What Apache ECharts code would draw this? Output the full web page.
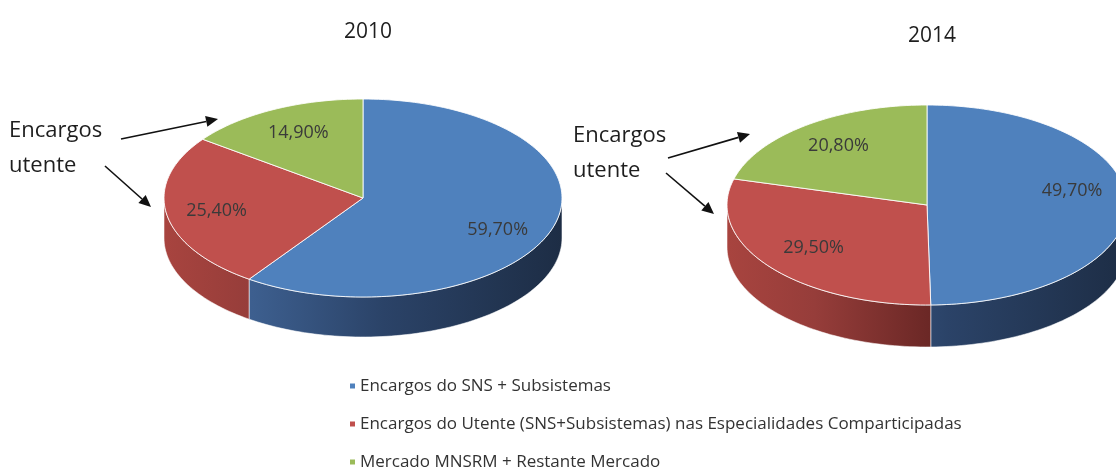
<!DOCTYPE html>
<html><head><meta charset="utf-8">
<script src="https://cdn.jsdelivr.net/npm/echarts@6/dist/echarts.min.js"></script>
<style>html,body{margin:0;padding:0;background:#fff}#c{width:1116px;height:469px}</style>
</head><body><div id="c"></div>
<script>
// ---- data ----
const years = ['2010', '2014'];
const categories = [
  'Encargos do SNS + Subsistemas',
  'Encargos do Utente (SNS+Subsistemas) nas Especialidades Comparticipadas',
  'Mercado MNSRM + Restante Mercado'
];
const snsValues = [59.7, 49.7];
const utenteValues = [25.4, 29.5];
const mercadoValues = [14.9, 20.8];
const annotationLines = ['Encargos', 'utente'];

// ---- styling / layout ----
const seriesValues = [snsValues, utenteValues, mercadoValues];
const topColors = ['#4F81BD', '#C0504D', '#9BBB59'];
const sideStops = [
  [[0, '#4a72a6'], [0.22, '#3d5f8f'], [0.55, '#2b4368'], [1, '#1d2d45']],
  [[0, '#a8443f'], [0.22, '#963d3a'], [0.5, '#6c2826'], [1, '#4a1a19']],
  [[0, '#7f9a48'], [0.5, '#5f7535'], [1, '#435327']]
];
const pies = [
  { cx: 363, cy: 198, rx: 199, ry: 99, depth: 40 },
  { cx: 927, cy: 205, rx: 200, ry: 100, depth: 42 }
];
// per pie, per category label nudge in px [dx, dy]
const labelNudge = [
  [[-2, 10], [-5, 1], [0, -2]],
  [[1, -13], [0, -1], [-1, -2]]
];
const FONT = 'Open Sans';

function pt(p, th, dy, f) {
  f = f == null ? 1 : f;
  return [p.cx + p.rx * f * Math.sin(th), p.cy - p.ry * f * Math.cos(th) + (dy || 0)];
}
function arc(p, a, b, dy) {
  const n = Math.max(2, Math.ceil(Math.abs(b - a) / (Math.PI / 120)));
  const out = [];
  for (let k = 0; k <= n; k++) out.push(pt(p, a + (b - a) * k / n, dy));
  return out;
}
function fmt(v) { return v.toFixed(2).replace('.', ',') + '%'; }

function makeRender(s) {
  return function (params, api) {
    const i = params.dataIndex;
    const p = pies[i];
    const v = api.value(0);
    let total = 0, before = 0;
    for (let c = 0; c < seriesValues.length; c++) {
      total += seriesValues[c][i];
      if (c < s) before += seriesValues[c][i];
    }
    const a0 = before / total * 2 * Math.PI;
    const a1 = (before + v) / total * 2 * Math.PI;
    const children = [];
    const sa = Math.max(a0, Math.PI / 2), sb = Math.min(a1, 3 * Math.PI / 2);
    if (sa < sb) {
      const pts = arc(p, sa, sb, 0).concat(arc(p, sb, sa, p.depth));
      children.push({
        type: 'polygon', z2: 1,
        shape: { points: pts },
        style: {
          fill: new echarts.graphic.LinearGradient(p.cx - p.rx, 0, p.cx + p.rx, 0,
            sideStops[s].map(function (st) { return { offset: st[0], color: st[1] }; }), true),
          stroke: 'rgba(255,255,255,0.55)', lineWidth: 1
        }
      });
    }
    const topPts = [[p.cx, p.cy]].concat(arc(p, a0, a1, 0));
    children.push({
      type: 'polygon', z2: 10,
      shape: { points: topPts },
      style: { fill: topColors[s], stroke: 'rgba(255,255,255,0.85)', lineWidth: 1 }
    });
    const mid = (a0 + a1) / 2;
    const lp = pt(p, mid, 0, 0.72);
    const nd = labelNudge[i][s];
    children.push({
      type: 'text', z2: 20,
      x: lp[0] + nd[0], y: lp[1] + nd[1],
      style: {
        text: fmt(v), fill: '#3a3a3a', font: '18px "' + FONT + '"',
        align: 'center', verticalAlign: 'middle'
      }
    });
    return { type: 'group', children: children };
  };
}

const series = categories.map(function (name, s) {
  return {
    type: 'custom', name: name, coordinateSystem: 'none',
    itemStyle: { color: topColors[s] },
    renderItem: makeRender(s),
    data: seriesValues[s].map(function (v, i) { return { value: [v], name: years[i] }; }),
    animation: false
  };
});

function arrow(x1, y1, x2, y2) {
  const ang = Math.atan2(y2 - y1, x2 - x1);
  const L = 12, W = 5.5;
  const bx = x2 - L * Math.cos(ang), by = y2 - L * Math.sin(ang);
  const nx = -Math.sin(ang), ny = Math.cos(ang);
  return [
    { type: 'line', shape: { x1: x1, y1: y1, x2: bx, y2: by }, style: { stroke: '#111', lineWidth: 1.6 } },
    { type: 'polygon', shape: { points: [[x2, y2], [bx + nx * W, by + ny * W], [bx - nx * W, by - ny * W]] }, style: { fill: '#111' } }
  ];
}
function annText(x, y, t) {
  return { type: 'text', x: x, y: y, style: { text: t, fill: '#1e1e1e', font: '22px "' + FONT + '"', verticalAlign: 'middle' } };
}

const graphics = [
  annText(9, 131, annotationLines[0]), annText(9, 166, annotationLines[1]),
  annText(573, 136, annotationLines[0]), annText(573, 171, annotationLines[1])
].concat(arrow(121, 139, 218, 119), arrow(105, 166, 151, 207),
         arrow(668, 158, 750, 134), arrow(666, 173, 714, 214));

const chart = echarts.init(document.getElementById('c'), null, { renderer: 'canvas' });
chart.setOption({
  backgroundColor: '#fff',
  animation: false,
  title: [
    { text: years[0], left: 363, top: 17, textAlign: 'center', textStyle: { fontFamily: FONT, fontSize: 21, fontWeight: 'normal', color: '#1e1e1e' } },
    { text: years[1], left: 927, top: 21, textAlign: 'center', textStyle: { fontFamily: FONT, fontSize: 21, fontWeight: 'normal', color: '#1e1e1e' } }
  ],
  legend: {
    orient: 'vertical', left: 345, top: 371, height: 140,
    icon: 'rect', itemWidth: 5, itemHeight: 5, itemGap: 18,
    data: categories,
    textStyle: { fontFamily: FONT, fontSize: 17, color: '#333', lineHeight: 20 }
  },
  graphic: graphics,
  series: series
});
</script></body></html>
